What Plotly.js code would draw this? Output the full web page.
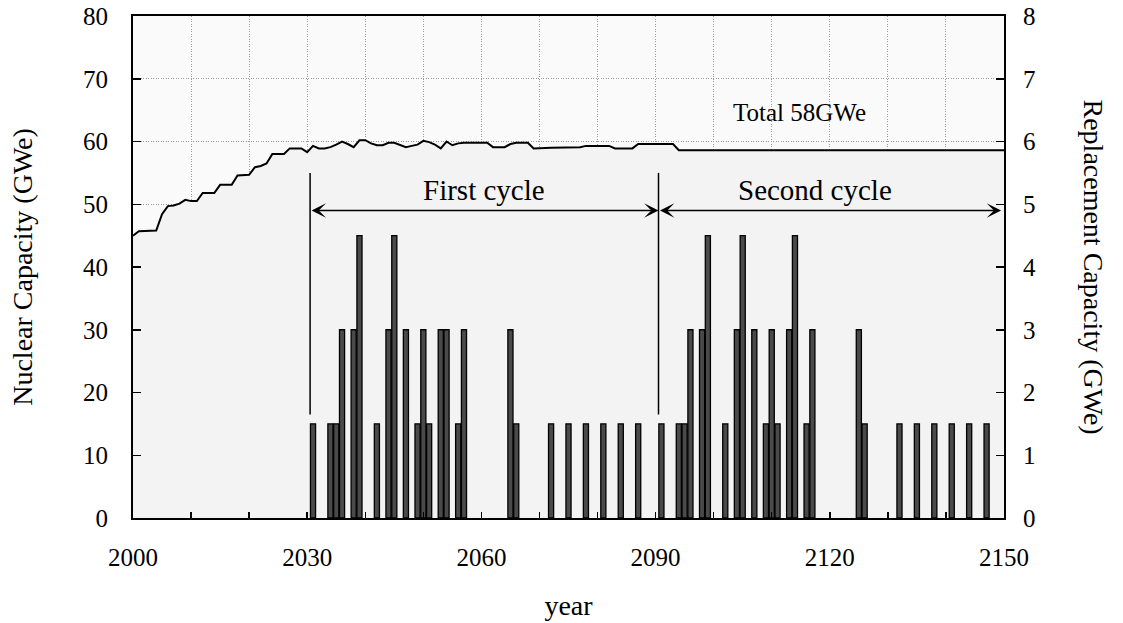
<!DOCTYPE html>
<html>
<head>
<meta charset="utf-8">
<script src="https://cdn.plot.ly/plotly-3.0.1.min.js"></script>
<style>
  html, body { margin: 0; padding: 0; background: #ffffff; }
  #chart { width: 1123px; height: 623px; }
</style>
</head>
<body>
<div id="chart"></div>
<script>
// Total installed nuclear capacity (GWe), vertices of the curve
const capYears = [2000, 2001, 2004, 2005, 2006, 2007, 2008, 2009, 2010, 2011, 2012, 2014,
  2015, 2017, 2018, 2020, 2021, 2022, 2023, 2024, 2026, 2027, 2029, 2030, 2031, 2032,
  2033, 2034, 2035, 2036, 2037, 2038, 2039, 2040, 2041, 2042, 2043, 2044, 2045, 2046,
  2047, 2048, 2049, 2050, 2051, 2052, 2053, 2054, 2055, 2056, 2057, 2061, 2062, 2064,
  2065, 2066, 2068, 2069, 2071, 2072, 2077, 2078, 2082, 2083, 2086, 2087, 2093, 2094, 2150];
const capValues = [45.0, 45.7, 45.8, 48.4, 49.7, 49.8, 50.1, 50.7, 50.5, 50.5, 51.8, 51.8,
  53.1, 53.1, 54.6, 54.7, 55.9, 56.1, 56.5, 58.0, 58.0, 58.9, 58.9, 58.3, 59.3, 58.9,
  58.9, 59.1, 59.5, 60.0, 59.6, 59.1, 60.2, 60.2, 59.7, 59.4, 59.4, 59.8, 59.8, 59.5,
  59.1, 59.3, 59.5, 60.1, 59.9, 59.5, 58.9, 60.0, 59.4, 59.7, 59.8, 59.8, 59.1, 59.1,
  59.6, 59.8, 59.8, 58.9, 58.9, 59.0, 59.1, 59.3, 59.3, 58.9, 58.9, 59.6, 59.6, 58.6, 58.6];

// Capacity replaced in each year (GWe)
const replYears = [2031, 2034, 2035, 2036, 2038, 2039, 2042, 2044, 2045, 2047, 2049, 2050,
  2051, 2053, 2054, 2056, 2057, 2065, 2066, 2072, 2075, 2078, 2081, 2084, 2087,
  2091, 2094, 2095, 2096, 2098, 2099, 2102, 2104, 2105, 2107, 2109, 2110, 2111, 2113,
  2114, 2116, 2117, 2125, 2126, 2132, 2135, 2138, 2141, 2144, 2147];
const replValues = [1.5, 1.5, 1.5, 3, 3, 4.5, 1.5, 3, 4.5, 3, 1.5, 3,
  1.5, 3, 3, 1.5, 3, 3, 1.5, 1.5, 1.5, 1.5, 1.5, 1.5, 1.5,
  1.5, 1.5, 1.5, 3, 3, 4.5, 1.5, 3, 4.5, 3, 1.5, 3, 1.5, 3,
  4.5, 1.5, 3, 3, 1.5, 1.5, 1.5, 1.5, 1.5, 1.5, 1.5];

// Replacement cycles: boundaries in years and labels
const cycleBounds = [2030.5, 2090.5, 2149.5];
const cycleLabels = ['First cycle', 'Second cycle'];
const totalLabel = 'Total 58GWe';

// Axis ticks
const xTickVals = [2000, 2010, 2020, 2030, 2040, 2050, 2060, 2070, 2080, 2090,
  2100, 2110, 2120, 2130, 2140, 2150];
const xTickText = ['2000', '', '', '2030', '', '', '2060', '', '', '2090',
  '', '', '2120', '', '', '2150'];

const FONT = 'Liberation Serif, Times New Roman, serif';
const tickFont = { family: FONT, size: 25, color: '#000000' };

const traces = [
  {
    x: capYears, y: capValues, type: 'scatter', mode: 'lines',
    fill: 'tozeroy', fillcolor: '#f3f3f3',
    line: { color: '#000000', width: 2 },
    xaxis: 'x', yaxis: 'y', hoverinfo: 'x+y', showlegend: false
  },
  {
    x: replYears, y: replValues, type: 'bar', width: 0.88,
    marker: { color: '#4a4a4a', line: { color: '#000000', width: 1.3 } },
    xaxis: 'x', yaxis: 'y2', showlegend: false
  }
];

const armY = 49;      // height of the cycle arrows (left scale)
const markTop = 55;   // top of the cycle boundary marks
const markBot = 16.5; // bottom of the cycle boundary marks
const labelY = 52.2;

const shapes = [cycleBounds[0], cycleBounds[1]].map(b => ({
  type: 'line', xref: 'x', yref: 'y', x0: b, x1: b, y0: markBot, y1: markTop,
  line: { color: '#000000', width: 1.5 }
}));

const arrowBase = {
  xref: 'x', yref: 'y', axref: 'x', ayref: 'y', text: '', showarrow: true,
  arrowhead: 3, startarrowhead: 3, arrowside: 'end+start', arrowsize: 1.6,
  startarrowsize: 1.6, arrowwidth: 1.5, arrowcolor: '#000000', standoff: 0, startstandoff: 0
};

const annotations = [
  Object.assign({}, arrowBase, { x: cycleBounds[1], y: armY, ax: cycleBounds[0], ay: armY }),
  Object.assign({}, arrowBase, { x: cycleBounds[2], y: armY, ax: cycleBounds[1], ay: armY }),
  { xref: 'x', yref: 'y', x: (cycleBounds[0] + cycleBounds[1]) / 2, y: labelY,
    text: cycleLabels[0], showarrow: false, font: { family: FONT, size: 29, color: '#000' } },
  { xref: 'x', yref: 'y', x: 2117.5, y: labelY,
    text: cycleLabels[1], showarrow: false, font: { family: FONT, size: 29, color: '#000' } },
  { xref: 'x', yref: 'y', x: 2114.8, y: 64.6,
    text: totalLabel, showarrow: false, font: { family: FONT, size: 25, color: '#000' } },
  { xref: 'paper', yref: 'paper', x: 1.0, xshift: 107, y: 0.5, textangle: 90,
    text: 'Replacement Capacity (GWe)', showarrow: false,
    font: { family: FONT, size: 28, color: '#000' } }
];

const gridStyle = { showgrid: true, gridcolor: '#9a9a9a', gridwidth: 1, griddash: '1px,1.5px' };

const layout = {
  width: 1123, height: 623,
  margin: { l: 133, r: 119, t: 16, b: 105 },
  paper_bgcolor: '#ffffff', plot_bgcolor: '#fafafa',
  font: { family: FONT, size: 25, color: '#000000' },
  bargap: 0,
  showlegend: false,
  xaxis: Object.assign({
    range: [2000, 2150], tickmode: 'array', tickvals: xTickVals, ticktext: xTickText,
    ticks: 'inside', ticklen: 6, tickwidth: 1.5, tickcolor: '#000', tickfont: tickFont,
    showline: true, linecolor: '#000', linewidth: 2, mirror: true,
    zeroline: false, ticklabelstandoff: 16,
    title: { text: 'year', font: { family: FONT, size: 28 }, standoff: 25 }
  }, gridStyle),
  yaxis: Object.assign({
    range: [0, 80], dtick: 10, ticks: 'inside', ticklen: 8, tickwidth: 1.5, tickcolor: '#000',
    tickfont: tickFont,
    showline: true, linecolor: '#000', linewidth: 2, mirror: true,
    zeroline: false, ticklabelstandoff: 18,
    title: { text: 'Nuclear Capacity (GWe)', font: { family: FONT, size: 28 }, standoff: 42 }
  }, gridStyle),
  yaxis2: {
    range: [0, 8], dtick: 1, overlaying: 'y', side: 'right',
    ticks: 'inside', ticklen: 8, tickwidth: 1.5, tickcolor: '#000', tickfont: tickFont,
    showline: false, showgrid: false, zeroline: false, ticklabelstandoff: 18
  },
  shapes: shapes,
  annotations: annotations
};

Plotly.newPlot('chart', traces, layout, { staticPlot: true, displayModeBar: false });
</script>
</body>
</html>
